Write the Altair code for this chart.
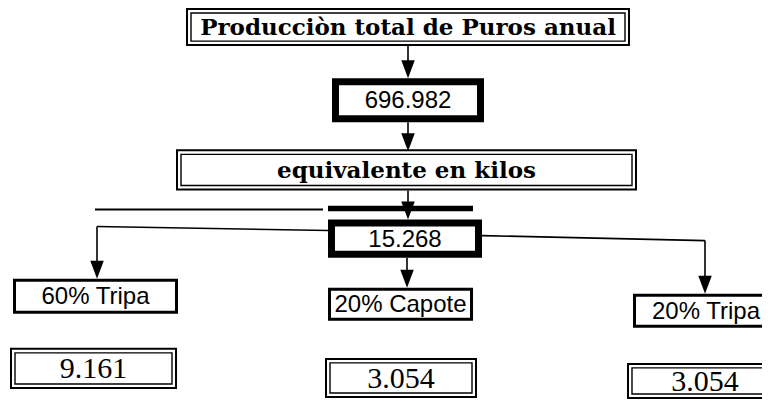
import altair as alt
import pandas as pd

# ---------------- content ----------------
header_labels = ["Producciòn total de Puros anual", "equivalente en kilos"]
total_values = ["696.982", "15.268"]
share_labels = ["60% Tripa", "20% Capote", "20% Tripa"]
kilo_values = ["9.161", "3.054", "3.054"]

# ---------------- layout (page pixel coordinates: x0, x1, y0, y1) ----------------
header_boxes = [(186, 630, 8, 46), (176, 637, 149, 190)]
total_boxes = [(332, 484, 78, 122), (328, 482, 219, 257)]
share_boxes = [(13, 178, 278, 313), (328, 473, 287, 320), (633, 780, 293, 327)]
kilo_boxes = [(10, 177, 347, 388), (325, 477, 357, 397), (627, 780, 362, 398)]

# connector segments (x0, y0, x1, y1, width)
segments = [
    (408, 46, 408, 62, 1.6),
    (408, 122, 408, 134, 1.6),
    (408, 190, 408, 203, 1.6),
    (95, 209, 323, 209, 2.0),
    (328, 208, 473, 208, 5.5),
    (328, 230, 97, 226, 1.6),
    (97, 226, 97, 262, 1.6),
    (482, 235, 705, 240, 1.6),
    (705, 240, 705, 276, 1.6),
    (407, 257, 407, 270, 1.6),
]
# arrow tips (x, y)
arrow_tips = [(408, 78), (408, 151), (408, 219), (97, 278), (407, 287), (705, 293)]

# ---------------- build tables ----------------
rect_rows = []
for (x0, x1, y0, y1) in header_boxes + kilo_boxes:
    rect_rows.append(dict(x=x0 + 1, x2=x1 - 1, y=y0 + 1, y2=y1 - 1, sw=2.0))
    rect_rows.append(dict(x=x0 + 5, x2=x1 - 5, y=y0 + 5, y2=y1 - 5, sw=1.4))
for (x0, x1, y0, y1) in total_boxes:
    rect_rows.append(dict(x=x0 + 3.5, x2=x1 - 3.5, y=y0 + 3.5, y2=y1 - 3.5, sw=7.0))
for (x0, x1, y0, y1) in share_boxes:
    rect_rows.append(dict(x=x0 + 1.5, x2=x1 - 1.5, y=y0 + 1.5, y2=y1 - 1.5, sw=3.0))
rects = pd.DataFrame(rect_rows)

lines = pd.DataFrame([dict(x=a, y=b, x2=c, y2=d, sw=w) for (a, b, c, d, w) in segments])
arrows = pd.DataFrame([dict(x=a, y=b - 9) for (a, b) in arrow_tips])


def centers(boxes, labels):
    return pd.DataFrame(
        [dict(x=(b[0] + b[1]) / 2, y=(b[2] + b[3]) / 2 + 1, label=t) for b, t in zip(boxes, labels)]
    )


head_df = centers(header_boxes, header_labels)
tot_df = centers(total_boxes, total_values)
share_df = centers(share_boxes, share_labels)
# right share box is cut by the page edge; keep its text centred on the arrow
share_df.loc[2, "x"] = 706
kilo_df = centers(kilo_boxes, kilo_values)
kilo_df.loc[2, "x"] = 705

xs = alt.Scale(domain=[8, 762], nice=False, zero=False)
ys = alt.Scale(domain=[8, 398], nice=False, zero=False, reverse=True)
X = alt.X("x:Q", scale=xs, axis=None)
Y = alt.Y("y:Q", scale=ys, axis=None)

line_layer = alt.Chart(lines).mark_rule(color="black").encode(
    x=X, y=Y, x2="x2:Q", y2="y2:Q", strokeWidth=alt.StrokeWidth("sw:Q", scale=None)
)
rect_layer = alt.Chart(rects).mark_rect(fill="white", stroke="black").encode(
    x=X, y=Y, x2="x2:Q", y2="y2:Q", strokeWidth=alt.StrokeWidth("sw:Q", scale=None)
)
arrow_layer = alt.Chart(arrows).mark_point(
    shape="M-0.75,-1L0.75,-1L0,1Z", filled=True, color="black", opacity=1, size=324
).encode(x=X, y=Y)

head_text = alt.Chart(head_df).mark_text(
    font="DejaVu Serif", fontWeight="bold", fontSize=23, color="black", baseline="middle"
).encode(x=X, y=Y, text="label:N")
tot_text = alt.Chart(tot_df).mark_text(
    font="Liberation Sans", fontSize=24, color="black", baseline="middle"
).encode(x=X, y=Y, text="label:N")
share_text = alt.Chart(share_df).mark_text(
    font="Liberation Sans", fontSize=24, color="black", baseline="middle"
).encode(x=X, y=Y, text="label:N")
kilo_text = alt.Chart(kilo_df).mark_text(
    font="Liberation Serif", fontSize=30, color="black", baseline="middle"
).encode(x=X, y=Y, text="label:N")

chart = (
    alt.layer(line_layer, rect_layer, arrow_layer, head_text, tot_text, share_text, kilo_text)
    .properties(width=754, height=391, padding=0, autosize="none", background="white")
    .configure_view(stroke=None)
)

chart.save("out.html", embed_options={"renderer": "svg", "actions": False})
